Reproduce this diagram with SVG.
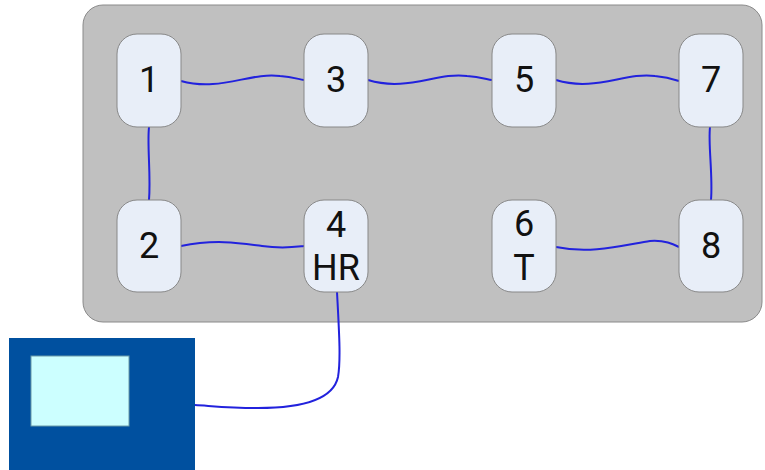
<svg xmlns="http://www.w3.org/2000/svg" width="765" height="470" viewBox="0 0 765 470">
<style>
.node{fill:#E8EEF8;stroke:#888;stroke-width:1}
.lbl{font-family:Roboto,"Liberation Sans",Arial,sans-serif;font-size:36px;fill:#111;text-anchor:middle}
.wire{fill:none;stroke:#2222DD;stroke-width:2}
</style>
<rect id="panel" x="83" y="5" width="679" height="317" rx="20" fill="#C0C0C0" stroke="#8a8a8a" stroke-width="1"/>
<g id="monitor">
<rect x="9" y="338" width="186" height="140" fill="#00509F"/>
<rect x="31" y="356" width="98" height="70" fill="#CCFFFF" stroke="#6a9aa8" stroke-width="1"/>
</g>
<g id="connectors">
<path class="wire" d="M181,81 C220,92 250,72 280,76 C292,77 298,79 304,80"/>
<path class="wire" d="M368,80 C407,92 437,72 467,76 C479,77 486,79 492,80"/>
<path class="wire" d="M556,80 C595,92 625,72 655,76 C667,77 673,79 679,81"/>
<path class="wire" d="M149,127 C147,145 151,175 149,200"/>
<path class="wire" d="M710,127 C708,145 713,175 711,200"/>
<path class="wire" d="M181,246 C215,239 240,243 262,246 C283,249 295,247 304,246"/>
<path class="wire" d="M556,247 C590,254 620,246 650,241 C665,240 673,244 679,247"/>
<path class="wire" d="M337,292 C339,330 341,360 338,377 C333,400 300,408 258,408 C230,408 212,406 195,405"/>
</g>
<g id="n1"><rect class="node" x="117" y="34" width="64" height="93" rx="20"/><text class="lbl" x="149" y="92">1</text></g>
<g id="n3"><rect class="node" x="304" y="34" width="64" height="93" rx="20"/><text class="lbl" x="336" y="92">3</text></g>
<g id="n5"><rect class="node" x="492" y="34" width="64" height="93" rx="20"/><text class="lbl" x="524" y="92">5</text></g>
<g id="n7"><rect class="node" x="679" y="34" width="64" height="93" rx="20"/><text class="lbl" x="711" y="92">7</text></g>
<g id="n2"><rect class="node" x="117" y="200" width="64" height="92" rx="20"/><text class="lbl" x="149" y="258">2</text></g>
<g id="n4"><rect class="node" x="304" y="200" width="64" height="92" rx="20"/><text class="lbl" x="336" y="237">4</text><text class="lbl" x="336" y="280">HR</text></g>
<g id="n6"><rect class="node" x="492" y="200" width="64" height="92" rx="20"/><text class="lbl" x="524" y="236">6</text><text class="lbl" x="524" y="280">T</text></g>
<g id="n8"><rect class="node" x="679" y="200" width="64" height="92" rx="20"/><text class="lbl" x="711" y="258">8</text></g>
</svg>
